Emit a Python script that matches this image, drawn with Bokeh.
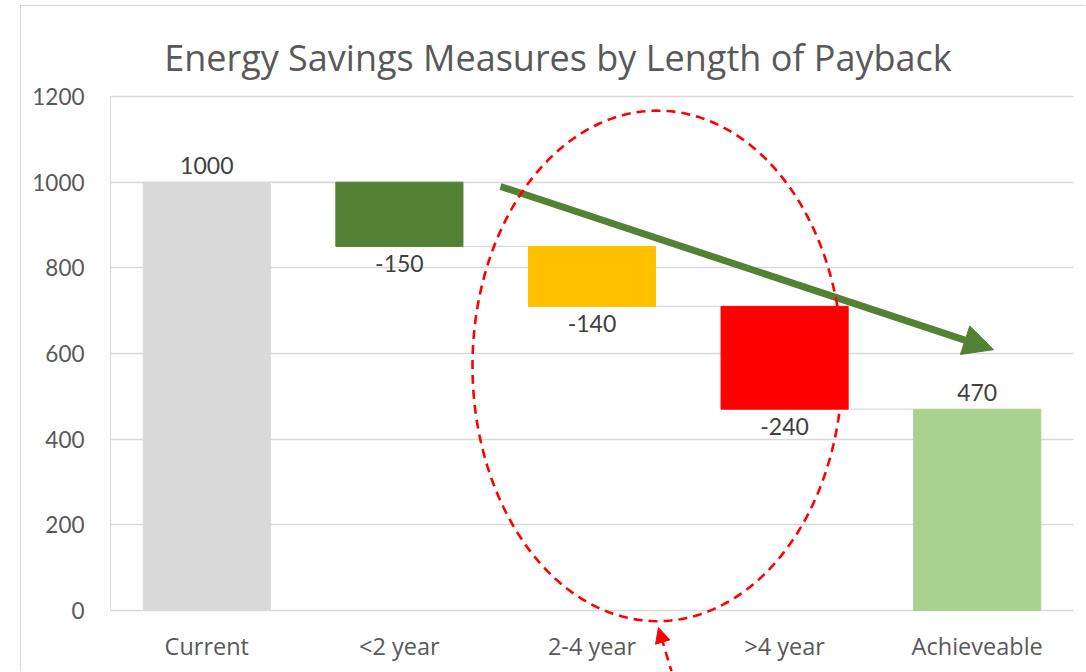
import numpy as np
from bokeh.plotting import figure
from bokeh.models import (ColumnDataSource, Range1d, FixedTicker, LabelSet, Label,
                          Arrow, NormalHead, PolyAnnotation)
from bokeh.core.properties import value
from bokeh.embed import file_html
from bokeh.resources import INLINE

# ---- data ----
categories = ["Current", "<2 year", "2-4 year", ">4 year", "Achieveable"]
values = [1000, -150, -140, -240, 470]
is_total = [True, False, False, False, True]
bar_colors = ["#d9d9d9", "#548235", "#ffc000", "#ff0000", "#a9d18e"]
y_ticks = [0, 200, 400, 600, 800, 1000, 1200]
title_text = "Energy Savings Measures by Length of Payback"

# ---- waterfall geometry derived from the values ----
xs = list(range(len(categories)))
bottoms, tops, label_y, label_off = [], [], [], []
running = 0
for v, tot in zip(values, is_total):
    if tot:
        b, t = 0, v
        running = v
        label_y.append(t); label_off.append(8)
    else:
        t = running
        b = running + v
        running = b
        label_y.append(b); label_off.append(-26)
    bottoms.append(b); tops.append(t)
levels = [tops[0]] + [bottoms[i] for i in range(1, len(values) - 1)]

BW = 0.66
src = ColumnDataSource(dict(x=xs, top=tops, bottom=bottoms, color=bar_colors,
                            ly=label_y, loff=label_off, txt=[str(v) for v in values]))
cat_src = ColumnDataSource(dict(x=xs, y=[0] * len(xs), txt=categories))

# frame covers the whole chart height; 1200 units span 514 px
PXU = 514 / 1200.0
p = figure(width=1065, height=666, output_backend="svg", toolbar_location=None,
           x_range=Range1d(-0.5, 4.5),
           y_range=Range1d(-(666 - 90 - 514) / PXU, 1200 + 90 / PXU),
           min_border_left=89, min_border_right=13, min_border_top=0, min_border_bottom=0)
p.styles = {"margin-left": "20px", "margin-top": "5px",
            "border-top": "1px solid #d9d9d9", "border-left": "1px solid #d9d9d9"}
p.outline_line_color = None
p.background_fill_color = "white"
p.border_fill_color = "white"

# grid
p.xgrid.grid_line_color = None
p.ygrid.ticker = FixedTicker(ticks=y_ticks)
p.ygrid.grid_line_color = "#d9d9d9"
p.ygrid.grid_line_width = 1.3

# axes
p.xaxis.visible = False
p.yaxis.ticker = FixedTicker(ticks=y_ticks)
p.yaxis.bounds = (0, 1200)
p.yaxis.axis_line_color = "#d9d9d9"
p.yaxis.major_tick_line_color = None
p.yaxis.minor_tick_line_color = None
p.yaxis.major_label_standoff = 20
p.yaxis.major_label_text_font = "Lato"
p.yaxis.major_label_text_font_size = "22.5px"
p.yaxis.major_label_text_color = "#595959"

# category labels under the baseline
p.add_layout(LabelSet(x="x", y="y", text="txt", y_offset=-44, source=cat_src,
                      text_align="center", text_baseline="alphabetic",
                      text_font=value("Open Sans"), text_font_size=value("23.5px"),
                      text_color="#595959"))

# connectors
p.segment(x0=[i + BW / 2 for i in range(len(levels))],
          x1=[i + 1 - BW / 2 for i in range(len(levels))],
          y0=levels, y1=levels, line_color="#d9d9d9", line_width=1.3)

# bars
p.vbar(x="x", top="top", bottom="bottom", width=BW, color="color", source=src)

# data labels
p.add_layout(LabelSet(x="x", y="ly", text="txt", y_offset="loff", source=src,
                      text_align="center", text_baseline="alphabetic",
                      text_font=value("Lato"), text_font_size=value("23px"),
                      text_color="#404040"))

# title
p.add_layout(Label(x=1.823, y=1291, text=title_text, text_align="center",
                   text_baseline="alphabetic", text_font="Open Sans",
                   text_font_size="36px", text_color="#595959"))

# green trend arrow
p.add_layout(Arrow(x_start=1.525, y_start=990, x_end=4.085, y_end=609,
                   line_color="#548235", line_width=7,
                   end=NormalHead(size=30, fill_color="#548235", line_color="#548235")))

# red dashed ellipse
cx, cy, rx, ry = 2.340, 571, 0.9605, 596
t = np.linspace(0, 2 * np.pi, 240)
p.add_layout(PolyAnnotation(xs=list(cx + rx * np.cos(t)), ys=list(cy + ry * np.sin(t)),
                            fill_alpha=0, line_color="#ff0000", line_alpha=1.0,
                            line_width=2.6, line_dash="9 6"))

# red dashed pointer arrow
p.add_layout(Arrow(x_start=2.418, y_start=-150, x_end=2.345, y_end=-40,
                   line_color="#ff0000", line_width=2.6, line_dash="9 6",
                   end=NormalHead(size=15, fill_color="#ff0000", line_color="#ff0000",
                                  line_dash="solid")))

open("out.html", "w").write(file_html(p, INLINE))
